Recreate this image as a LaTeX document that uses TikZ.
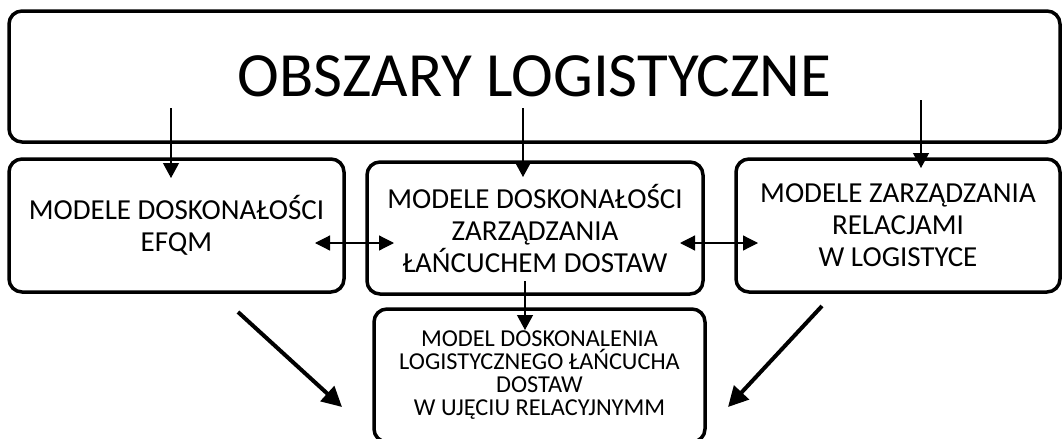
\documentclass[tikz,border=0pt]{standalone}
\usepackage{fontspec}
\setmainfont{Carlito}
\usetikzlibrary{arrows.meta}
\begin{document}
\begin{tikzpicture}[x=1pt,y=-1pt,
  box/.style={draw=black,line width=3.5pt,rounded corners=13pt,align=center,inner sep=0pt,fill=white},
  rowtext/.style={font=\fontsize{29}{32}\selectfont},
  lowtext/.style={font=\fontsize{24.3}{23}\selectfont},
  thinarrow/.style={line width=1.2pt,-{Triangle[width=16pt,length=15pt]}},
  dblarrow/.style={line width=1.2pt,{Triangle[width=15pt,length=15pt]}-{Triangle[width=15pt,length=15pt]}},
  bigarrow/.style={line width=4pt,-{Triangle[width=20pt,length=20pt]}}
]
\useasboundingbox (0,0) rectangle (1063,439);
\fill[white] (0,0) rectangle (1063,439);
\node[box,minimum width=1051pt,minimum height=131pt,font=\fontsize{63}{64}\selectfont] (top) at (534.5,76.5) {OBSZARY LOGISTYCZNE};
\node[box,rowtext,minimum width=335pt,minimum height=133pt] (left) at (176.5,225.5) {MODELE DOSKONAŁOŚCI\\EFQM};
\node[box,rowtext,minimum width=336pt,minimum height=132pt] (mid) at (535,228) {MODELE DOSKONAŁOŚCI\\ZARZĄDZANIA\\ŁAŃCUCHEM DOSTAW};
\node[box,rowtext,minimum width=324pt,minimum height=133pt] (right) at (898,225.5) {MODELE ZARZĄDZANIA\\RELACJAMI\\W LOGISTYCE};
\node[box,lowtext,minimum width=331pt,minimum height=133pt] (bottom) at (539.5,375.5) {MODEL DOSKONALENIA\\LOGISTYCZNEGO ŁAŃCUCHA\\DOSTAW\\W UJĘCIU RELACYJNYMM};
% connector end points
\coordinate (t1s) at (171,108); \coordinate (t1e) at (171,178);
\coordinate (t2s) at (523,108); \coordinate (t2e) at (523,177);
\coordinate (t3s) at (921,100); \coordinate (t3e) at (921,168);
\coordinate (d1a) at (315,243); \coordinate (d1b) at (394,243);
\coordinate (d2a) at (680,243); \coordinate (d2b) at (758,243);
\coordinate (m1s) at (525,281); \coordinate (m1e) at (525,330);
\coordinate (g1s) at (238,312); \coordinate (g1e) at (342,407);
\coordinate (g2s) at (822,306); \coordinate (g2e) at (728,407);
\draw[thinarrow] (t1s) -- (t1e);
\draw[thinarrow] (t2s) -- (t2e);
\draw[thinarrow] (t3s) -- (t3e);
\draw[dblarrow] (d1a) -- (d1b);
\draw[dblarrow] (d2a) -- (d2b);
\draw[thinarrow] (m1s) -- (m1e);
\draw[bigarrow] (g1s) -- (g1e);
\draw[bigarrow] (g2s) -- (g2e);
\end{tikzpicture}
\end{document}
